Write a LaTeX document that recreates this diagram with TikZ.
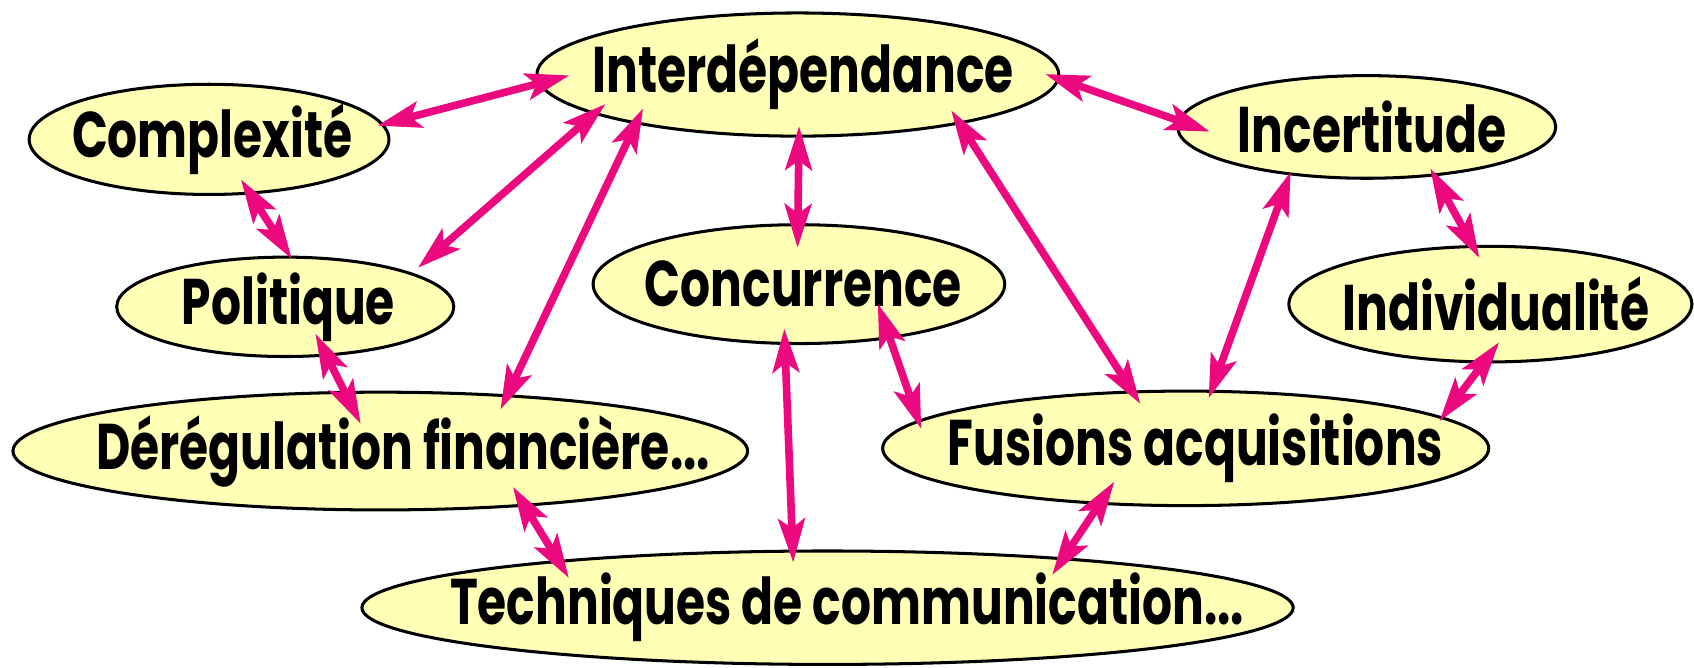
\documentclass[tikz,border=0pt]{standalone}
\usepackage{fontspec}
\newfontfamily\gros{Poppins}[FakeStretch=0.73]
\usepackage{tikz}
\usetikzlibrary{shapes.geometric,arrows.meta,positioning}
\definecolor{jaune}{RGB}{255,255,182}
\definecolor{rose}{RGB}{236,8,126}

\begin{document}
\begin{tikzpicture}
[>={Stealth[length=11.5pt,width=7pt,inset=2.5pt]},
font=\gros\bfseries\fontsize{17}{19}\selectfont,
bulle/.style = {ellipse, draw, line width=0.8pt, fill = jaune, inner sep = 0pt},
lien/.style = {<->, rose, line width=2pt},]
\useasboundingbox (0,0) rectangle (15.68,-6.18);
\node (cpx) at (1.935,-1.29)[bulle,minimum width=3.33cm,minimum height=1.02cm,label={[xshift=0.03cm]center:Complexité}] {};
\node (inter) at (7.385,-0.69)[bulle,minimum width=4.83cm,minimum height=1.14cm,label={[xshift=0.05cm]center:Interdépendance}] {};
\node (inc) at (12.65,-1.175)[bulle,minimum width=3.5cm,minimum height=0.95cm,label={[xshift=0.05cm]center:Incertitude}] {};
\node (pol) at (2.64,-2.84)[bulle,minimum width=3.12cm,minimum height=0.92cm,label={[xshift=0.03cm]center:Politique}] {};
\node (conc) at (7.395,-2.63)[bulle,minimum width=3.81cm,minimum height=1.1cm,label={[xshift=0.04cm]center:Concurrence}] {};
\node (indiv) at (13.795,-2.815)[bulle,minimum width=3.73cm,minimum height=1.07cm,label={[xshift=0.05cm]center:Individualité}] {};
\node (dereg) at (3.52,-4.175)[bulle,minimum width=6.8cm,minimum height=1.09cm,label={[xshift=0.21cm]center:Dérégulation financière...}] {};
\node (fus) at (10.975,-4.15)[bulle,minimum width=5.61cm,minimum height=1.06cm,label={[xshift=0.09cm]center:Fusions acquisitions}] {};
\node (tech) at (7.66,-5.625)[bulle,minimum width=8.62cm,minimum height=1.05cm,label={[xshift=0.18cm]center:Techniques de communication...}] {};
% liens autour de interdependance
\draw[lien,shorten <=-1.7pt,shorten >=-8.5pt] (cpx.5)--(inter.182);
\draw[lien,shorten <=-4.1pt,shorten >=2pt] (inter.191)--(pol.15);
\draw[lien,shorten <=-4.6pt,shorten >=-4.4pt] (inter.197)--(dereg.24);
\draw[lien,shorten <=-3pt,shorten >=-6.5pt] (inter.271)--(conc.91);
\draw[lien,shorten <=-4.3pt,shorten >=-4.2pt] (inter.343)--(fus.133);
\draw[lien,shorten <=-4pt,shorten >=-9pt] (inter.359)--(inc.178);
% les autres
\draw[lien,shorten <=-4.7pt,shorten >=-1pt] (cpx.307)--(pol.85);
\draw[lien,shorten <=-6.7pt,shorten >=-9.7pt] (pol.310)--(dereg.121);
\draw[lien,shorten <=-1pt,shorten >=-2.4pt] (inc.212)--(fus.66);
\draw[lien,shorten <=-2.4pt,shorten >=-3.9pt] (inc.324)--(indiv.107);
\draw[lien,shorten <=-7pt,shorten >=-1.4pt] (indiv.263)--(fus.7);
\draw[lien,shorten <=-9.8pt,shorten >=-2.4pt] (conc.329)--(fus.174);
\draw[lien,shorten <=-4.3pt,shorten >=-3.4pt] (conc.257)--(tech.121);
\draw[lien,shorten <=-6.1pt,shorten >=-5.5pt] (dereg.339)--(tech.170);
\draw[lien,shorten <=-7.3pt,shorten >=-5.5pt] (fus.213)--(tech.12);
\end{tikzpicture}
\end{document}
